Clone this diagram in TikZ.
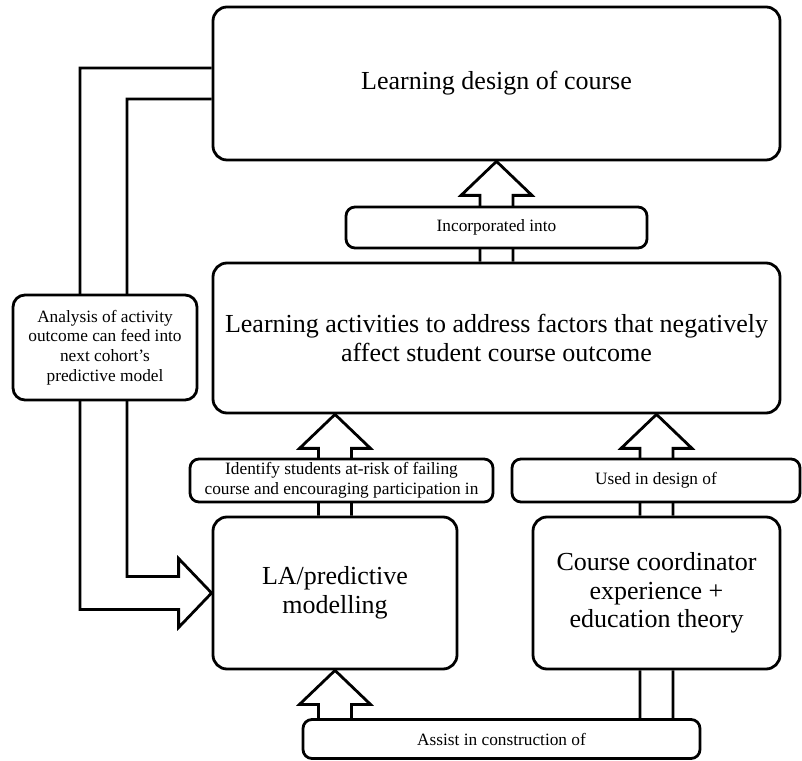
\documentclass[tikz,border=0pt]{standalone}
\usepackage{fontspec}
\setmainfont{Liberation Serif}
\usetikzlibrary{calc}
\tikzset{
  bigbox/.style={draw, fill=white, line width=2.8pt, rounded corners=14pt, inner sep=0pt, align=center, font=\fontsize{26}{28.6}\selectfont},
  tagbox/.style={draw, fill=white, line width=2.8pt, rounded corners=9pt, inner sep=0pt, align=center, font=\fontsize{17.3}{19.8}\selectfont},
  fatline/.style={line width=2.8pt, line join=miter}
}
% hollow arrow straight up from #1 into #2
\newcommand{\fatup}[2]{%
  \draw[fatline] let \p1=(#1.north), \p2=(#2.south) in
    (\x1-16.5pt,\y1) -- (\x1-16.5pt,\y2-34pt) -- (\x1-35.5pt,\y2-34pt) -- (\x1,\y2)
    -- (\x1+35.5pt,\y2-34pt) -- (\x1+16.5pt,\y2-34pt) -- (\x1+16.5pt,\y1);}
\begin{document}
\begin{tikzpicture}[x=1pt,y=1pt]
\useasboundingbox (0,0) rectangle (802,760);
% main boxes
\node[bigbox, minimum width=567, minimum height=153] (design) at (496.5,676.5) {Learning design of course};
\node[bigbox, minimum width=567, minimum height=150] (activities) at (496.5,422) {Learning activities to address factors that negatively\\affect student course outcome};
\node[bigbox, minimum width=244, minimum height=152] (LA) at (335,167) {LA/predictive\\modelling};
\node[bigbox, minimum width=247, minimum height=152] (coord) at (656.5,167) {Course coordinator\\experience +\\education theory};
% arrows
\fatup{activities}{design}
\fatup{LA}{activities}
\fatup{coord}{activities}
% coordinator down under the label and up into LA
\draw[fatline] let \p1=(coord.south), \p2=(LA.south) in
  (\x1+16.5pt,\y1) -- (\x1+16.5pt,7pt) -- (\x2-16.5pt,7pt) -- (\x2-16.5pt,\y2-34pt)
  -- (\x2-35.5pt,\y2-34pt) -- (\p2) -- (\x2+35.5pt,\y2-34pt) -- (\x2+16.5pt,\y2-34pt)
  -- (\x2+16.5pt,33pt) -- (\x1-16.5pt,33pt) -- (\x1-16.5pt,\y1);
% feedback loop on the left
\draw[fatline] let \p1=(design.west), \p2=(LA.west) in
  (\x1,\y1+15.5pt) -- (80pt,\y1+15.5pt) -- (80pt,\y2-16.5pt) -- (\x2-33pt,\y2-16.5pt)
  -- (\x2-33pt,\y2-34.5pt) -- (\p2) -- (\x2-33pt,\y2+34.5pt) -- (\x2-33pt,\y2+16.5pt)
  -- (127pt,\y2+16.5pt) -- (127pt,\y1-15.5pt) -- (\x1,\y1-15.5pt);
% labels on the arrows
\node[tagbox, minimum width=301, minimum height=41] (incorp) at (496.5,532.5) {Incorporated into};
\node[tagbox, minimum width=303, minimum height=43] (identify) at (341.5,279.5) {Identify students at-risk of failing\\course and encouraging participation in};
\node[tagbox, minimum width=288, minimum height=43] (used) at (656,279.5) {Used in design of};
\node[tagbox, minimum width=397, minimum height=39] (assist) at (501.5,21) {Assist in construction of};
\node[tagbox, rounded corners=12pt, minimum width=184, minimum height=105] (analysis) at (105,412.5) {Analysis of activity\\outcome can feed into\\next cohort’s\\predictive model};
\end{tikzpicture}
\end{document}
